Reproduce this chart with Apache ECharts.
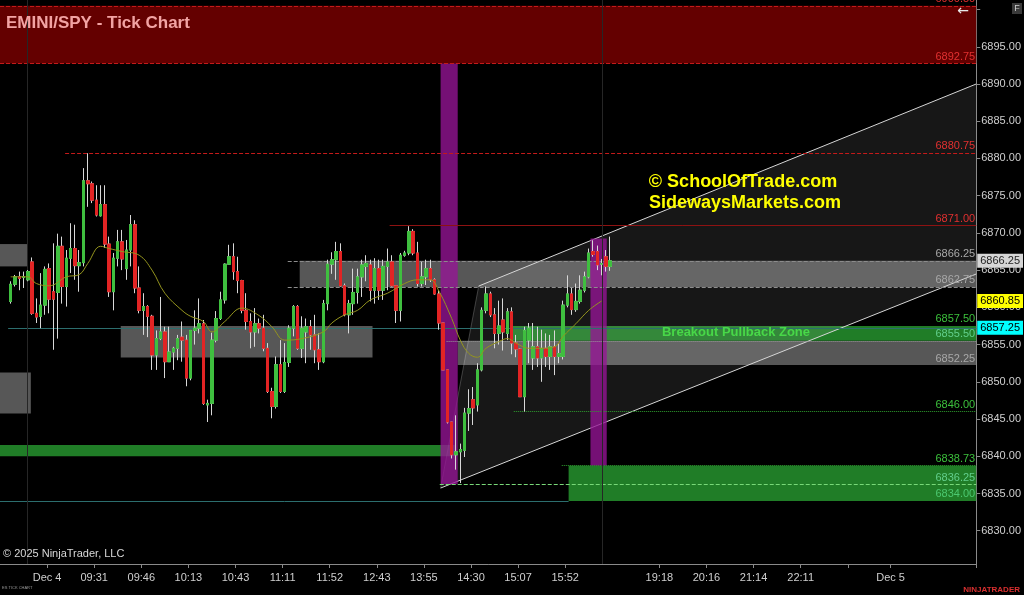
<!DOCTYPE html>
<html><head><meta charset="utf-8">
<script src="https://cdn.jsdelivr.net/npm/echarts@6/dist/echarts.min.js"></script>
<style>html,body{margin:0;padding:0;background:#000;}#c{width:1024px;height:595px;}</style>
</head><body><div id="c"></div>
<script>
// ---------- DATA ----------
const SLOTS = 228;              // bar slots on the time axis (incl. empty future area)
const Y_MIN = 6825.53, Y_MAX = 6901.28;
const xTickIdx = [11,22,33,44,55,66,77,88,99,110,121,132,154,165,176,187,198,208];
const xTickLabels = ['Dec 4','09:31','09:46','10:13','10:43','11:11','11:52','12:43','13:55','14:30','15:07','15:52','19:18','20:16','21:14','22:11','','Dec 5'];
const firstBar = 2;
// [open, close, low, high]
const ohlc = [
[6860.8,6863.1,6860.5,6863.5],[6863.1,6864.1,6862.8,6864.35],[6864.1,6863.9,6862.3,6864.8],[6864.0,6864.1,6862.6,6864.8],
[6863.7,6864.8,6863.5,6865.0],[6866.1,6859.2,6859.0,6866.7],[6859.2,6858.7,6857.9,6861.2],[6858.8,6860.3,6857.2,6864.6],
[6860.3,6865.1,6859.0,6865.5],[6865.2,6861.1,6859.2,6865.9],[6862.1,6861.1,6854.3,6868.6],[6862.0,6868.2,6855.8,6869.9],
[6868.2,6862.8,6860.5,6869.5],[6862.8,6866.6,6860.1,6867.7],[6866.6,6867.9,6864.6,6871.3],[6867.9,6865.6,6863.7,6871.1],
[6865.6,6866.0,6862.1,6867.7],[6866.0,6877.0,6865.5,6878.7],[6877.0,6876.6,6873.5,6880.7],[6876.6,6874.4,6874.0,6876.9],
[6874.4,6872.4,6872.2,6876.4],[6872.3,6873.8,6872.2,6876.4],[6873.8,6868.5,6868.0,6876.4],[6868.5,6862.1,6861.4,6869.5],
[6862.1,6866.6,6859.6,6867.3],[6866.6,6868.8,6865.5,6870.4],[6868.8,6866.5,6865.0,6870.4],[6865.2,6867.7,6863.7,6869.05],
[6867.7,6871.1,6865.5,6872.4],[6871.1,6862.6,6861.9,6871.7],[6862.6,6859.6,6859.2,6865.5],[6859.6,6860.1,6856.3,6861.9],
[6860.1,6858.8,6856.0,6860.3],[6858.8,6853.6,6851.6,6859.0],[6853.6,6855.8,6851.6,6856.9],[6855.8,6856.7,6855.6,6861.4],
[6856.7,6852.7,6850.5,6857.4],[6852.7,6854.0,6852.7,6857.4],[6854.0,6854.5,6851.6,6854.7],[6854.5,6855.8,6852.9,6856.3],
[6856.0,6855.6,6852.7,6858.1],[6855.6,6850.5,6849.4,6856.3],[6850.5,6856.9,6850.2,6856.9],[6856.9,6857.2,6855.0,6859.6],
[6857.2,6857.8,6856.5,6861.2],[6857.8,6847.1,6846.9,6858.3],[6846.9,6847.1,6844.6,6847.6],[6847.1,6855.6,6845.5,6856.6],
[6855.6,6858.5,6855.3,6859.5],[6858.5,6861.0,6858.3,6862.1],[6861.0,6865.8,6860.5,6865.9],[6865.8,6866.8,6865.8,6868.4],
[6866.8,6864.8,6863.7,6868.6],[6864.8,6863.6,6861.9,6866.8],[6863.6,6859.6,6859.2,6863.7],[6859.6,6858.1,6857.0,6861.9],
[6858.1,6856.7,6854.5,6859.2],[6856.7,6857.8,6854.7,6859.9],[6857.8,6857.2,6856.5,6858.5],[6857.2,6854.5,6854.1,6859.0],
[6854.5,6848.7,6848.5,6855.2],[6848.7,6846.7,6845.1,6849.2],[6846.7,6852.3,6846.4,6853.4],[6852.3,6848.7,6848.5,6855.6],
[6848.7,6852.6,6848.5,6855.2],[6852.6,6857.2,6852.0,6857.6],[6857.2,6860.1,6856.1,6860.3],[6860.1,6854.5,6854.3,6860.3],
[6854.5,6857.2,6853.2,6858.8],[6856.7,6857.4,6852.5,6858.5],[6857.4,6856.3,6854.3,6858.3],[6856.3,6854.3,6852.5,6859.0],
[6854.3,6852.7,6851.6,6856.5],[6852.7,6860.5,6852.5,6861.0],[6860.5,6865.8,6859.6,6866.4],[6865.8,6866.4,6864.5,6867.4],
[6866.4,6867.5,6863.7,6868.8],[6867.5,6862.9,6862.8,6868.6],[6862.9,6859.0,6858.8,6863.2],[6859.0,6860.5,6856.5,6861.0],
[6860.5,6862.0,6859.0,6865.2],[6862.0,6864.1,6860.5,6865.2],[6864.1,6865.7,6861.4,6866.4],[6865.5,6865.9,6863.5,6867.0],
[6865.7,6862.3,6860.8,6866.4],[6862.3,6865.2,6860.5,6866.6],[6865.2,6862.3,6861.0,6866.4],[6862.3,6865.5,6861.0,6866.4],
[6865.5,6866.1,6862.3,6867.9],[6866.1,6862.9,6862.8,6867.0],[6862.9,6859.6,6857.9,6863.0],[6859.6,6867.0,6858.1,6867.3],
[6867.0,6867.3,6866.8,6867.6],[6867.3,6870.2,6867.0,6870.9],[6870.2,6867.3,6867.0,6870.5],[6867.3,6863.2,6862.8,6868.8],
[6863.2,6864.1,6862.8,6866.1],[6864.1,6865.2,6863.0,6866.4],[6865.2,6863.7,6863.4,6866.4],[6863.7,6861.8,6861.7,6863.9],
[6861.8,6857.9,6857.0,6862.3],[6857.9,6851.6,6851.6,6857.9],[6851.6,6844.6,6844.4,6851.6],[6844.6,6840.2,6839.7,6844.6],
[6840.2,6840.6,6838.2,6845.5],[6840.6,6840.9,6836.4,6841.7],[6840.8,6845.8,6839.9,6846.5],[6845.8,6846.4,6843.4,6849.0],
[6847.6,6846.5,6844.2,6849.3],[6846.9,6851.6,6846.0,6852.5],[6851.6,6859.6,6851.4,6860.0],[6859.6,6861.8,6859.2,6862.8],
[6861.8,6859.0,6858.7,6862.1],[6859.0,6856.5,6854.5,6859.9],[6856.5,6857.5,6855.0,6860.9],[6858.3,6856.7,6854.2,6861.2],
[6856.5,6859.4,6855.6,6859.9],[6859.4,6855.2,6853.7,6860.0],[6855.2,6854.4,6853.3,6856.3],[6854.4,6848.0,6848.0,6854.5],
[6848.0,6856.9,6846.0,6857.4],[6855.6,6857.2,6852.5,6857.9],[6853.2,6854.7,6851.6,6857.9],[6854.7,6853.2,6852.0,6857.4],
[6853.2,6854.5,6850.0,6857.0],[6854.5,6853.4,6852.0,6856.5],[6853.4,6854.7,6851.6,6856.3],[6854.7,6853.4,6850.9,6856.9],
[6853.4,6853.8,6852.5,6855.2],[6853.4,6860.3,6853.0,6860.9],[6860.3,6861.8,6860.0,6864.3],[6861.8,6859.7,6859.0,6862.6],
[6859.7,6860.8,6859.4,6863.2],[6860.8,6862.3,6860.5,6864.3],[6862.3,6864.1,6862.0,6864.8],[6864.1,6867.3,6863.9,6867.9],
[6867.5,6867.1,6866.8,6869.0],[6867.5,6865.7,6865.0,6868.3],[6865.8,6865.9,6864.3,6866.5],[6866.8,6865.5,6864.8,6867.7],
[6865.5,6866.25,6864.9,6869.5]
];
// moving average read at selected bars [slot, value]
const maPoints = [[2,6864.1],[6,6864.1],[8,6863.2],[11,6862.9],[15,6864.1],[18,6864.4],[20,6865.9],[23,6868.2],[25,6867.9],
[28,6867.5],[32,6867.0],[35,6865.0],[38,6861.9],[42,6859.6],[44,6858.8],[47,6858.1],[49,6856.7],[52,6858.1],[56,6859.9],
[60,6858.9],[63,6857.4],[66,6855.6],[70,6855.8],[75,6856.7],[77,6857.9],[80,6859.0],[83,6859.6],[86,6861.0],[90,6861.9],
[94,6863.2],[97,6863.7],[100,6863.7],[102,6862.2],[105,6858.5],[107,6855.6],[109,6853.8],[111,6853.3],[113,6854.5],
[116,6855.4],[118,6855.8],[120,6855.2],[123,6854.5],[126,6854.5],[129,6854.7],[131,6856.1],[134,6857.8],[137,6859.6],[140,6860.85]];
// zones [fromSlot, toSlot, top, bottom]
const titleZone = [0, SLOTS, 6900.50, 6892.75];
const grayZones = [[0,6.3,6868.5,6865.5],[0,7.2,6851.25,6845.75],[28.2,87,6857.5,6853.25],[70,SLOTS,6866.25,6862.75],[106.9,SLOTS,6855.50,6852.25]];
const greenZones = [[0,106.2,6841.5,6840.0],[119.7,SLOTS,6857.50,6855.50],[132.8,SLOTS,6838.73,6834.00]];
const purpleBands = [[102.9,106.9,6892.75,6836.25],[137.9,141.7,6869.25,6838.73]];
// horizontal levels [value, fromSlot]
const levels = [[6900.50,0],[6892.75,0],[6880.75,15.2],[6871.00,91],[6866.25,67.2],[6862.75,67.2],[6857.50,119.7],
[6855.50,104.3],[6852.25,106.9],[6846.00,120],[6838.73,131.2],[6836.25,102.7],[6834.00,132.8]];
const tealLines = [[6857.25,1.9,SLOTS],[6834.00,0,132.8]];
const vLines = [6.3, 140.7];
// price markers on the axis [value]
const markers = [6866.25, 6860.85, 6857.25];
// channel [slot, price]
const channelUpper = [[111.8,6862.86],[SLOTS,6890.0]];
const channelLower = [[102.9,6835.73],[SLOTS,6864.48]];

// ---------- STYLES (by order of the arrays above) ----------
const levelStyle = [
 {lc:'#c41a1a',lt:'dashed',tc:'#e23030'},{lc:'#c41a1a',lt:'dashed',tc:'#e23030'},{lc:'#c41a1a',lt:'dashed',tc:'#e23030'},
 {lc:'#8e1212',lt:'solid',tc:'#e23030'},{lc:'#8c8c8c',lt:'dashed',tc:'#a8a8a8'},{lc:'#8c8c8c',lt:'dashed',tc:'#a8a8a8'},
 {lc:null,tc:'#3cc03c'},{lc:'#9a9a9a',lt:'dotted',tc:'#62cf8c'},{lc:null,tc:'#a8a8a8'},
 {lc:'#2e9e2e',lt:'dotted',tc:'#3cc03c'},{lc:'#2e9e2e',lt:'dotted',tc:'#3cc03c'},{lc:'#78d878',lt:'dashed',tc:'#62cf8c'},
 {lc:null,tc:'#4cc870'}];
const markerStyle = [{bg:'#d6d6d6',c:'#222'},{bg:'#ffff00',c:'#000'},{bg:'#00ffff',c:'#000'}];

const cats = Array.from({length:SLOTS},(_,i)=>{const k=xTickIdx.indexOf(i);return k>=0?xTickLabels[k]:'';});
const wickData = ohlc.map((b,j)=>[firstBar+j,b[0],b[1],b[2],b[3]]);
const bodyData = ohlc.map((b,j)=>[firstBar+j,b[0],b[1],Math.min(b[0],b[1]),Math.max(b[0],b[1])]);
const maData = Array(SLOTS).fill(null); maPoints.forEach(([i,v])=>{maData[i]=v;});

const area = (z, color) => [{coord:[z[0],z[2]], itemStyle:{color}}, {coord:[z[1],z[3]]}];
const font = '"Liberation Sans", Arial, sans-serif';

const levelLines = levels.map((l,k)=>{
  const s = levelStyle[k];
  return [{coord:[l[1],l[0]], lineStyle: s.lc ? {color:s.lc,type:s.lt,width:1} : {color:'rgba(0,0,0,0)',width:0},
           label:{show:true,position:'insideEndTop',distance:1,formatter:l[0].toFixed(2),color:s.tc,fontSize:11,fontFamily:font}},
          {coord:[SLOTS,l[0]]}];
});
const tealData = tealLines.map(t=>[{coord:[t[1],t[0]],lineStyle:{color:'#2c6e6e',width:1,type:'solid'},label:{show:false}},{coord:[t[2],t[0]]}]);
const vData = vLines.map(x=>[{coord:[x,Y_MIN],lineStyle:{color:'#262626',width:1,type:'solid'},label:{show:false}},{coord:[x,Y_MAX]}]);
const markerData = markers.map((v,k)=>[{coord:[0,v],lineStyle:{color:'rgba(0,0,0,0)',width:0},
   label:{show:true,position:'end',distance:1,formatter:v.toFixed(2),backgroundColor:markerStyle[k].bg,color:markerStyle[k].c,
          padding:[2,3,1,3],fontSize:11,fontFamily:font}},{coord:[SLOTS,v]}]);

const chart = echarts.init(document.getElementById('c'));
chart.setOption({
  backgroundColor:'#000',
  animation:false,
  grid:{left:0,right:47,top:0,bottom:31},
  xAxis:[{
    type:'category',data:cats,boundaryGap:true,
    axisLine:{onZero:false,lineStyle:{color:'#8a8a8a'}},
    axisTick:{show:true,length:4,alignWithLabel:false,lineStyle:{color:'#8a8a8a'},interval:(i)=>xTickIdx.includes(i)},
    axisLabel:{interval:(i)=>xTickIdx.includes(i)&&cats[i]!=='',color:'#cfcfcf',fontSize:11,margin:8,padding:[0,4.3,0,0],fontFamily:font},
    splitLine:{show:false}
  },{type:'value',min:0,max:SLOTS,show:false}],
  yAxis:{
    type:'value',position:'right',min:Y_MIN,max:Y_MAX,splitNumber:15,minInterval:5,maxInterval:5,scale:true,
    axisLine:{show:true,onZero:false,lineStyle:{color:'#8a8a8a'}},
    axisTick:{show:true,length:4,lineStyle:{color:'#8a8a8a'}},
    axisLabel:{color:'#cfcfcf',fontSize:11,margin:5,fontFamily:font,showMinLabel:false,showMaxLabel:false,
      formatter:(v)=> (v>6897||v<6826)?'':v.toFixed(2)},
    splitLine:{show:false}
  },
  series:[
    {type:'line',xAxisIndex:1,data:[],silent:true,
     markArea:{silent:true,z:1,label:{show:false},data:[area(titleZone,'#640000')]
       .concat(grayZones.map(z=>area(z,'rgba(150,150,150,0.58)')))
       .concat(greenZones.map(z=>area(z,'#207d27')))}},
    {type:'custom',xAxisIndex:1,yAxisIndex:0,z:2,silent:true,data:[[0,6860]],
     renderItem:(p,api)=>{
       const u0=api.coord(channelUpper[0]),u1=api.coord(channelUpper[1]),l0=api.coord(channelLower[0]),l1=api.coord(channelLower[1]);
       return {type:'group',children:[
         {type:'polygon',shape:{points:[u0,u1,l1,l0]},style:{fill:'rgba(255,255,255,0.09)'}},
         {type:'line',shape:{x1:l0[0],y1:l0[1],x2:u0[0],y2:u0[1]},style:{stroke:'rgba(255,255,255,0.22)',lineWidth:1}},
         {type:'line',shape:{x1:u0[0],y1:u0[1],x2:u1[0],y2:u1[1]},style:{stroke:'#d6d6d6',lineWidth:1}},
         {type:'line',shape:{x1:l0[0],y1:l0[1],x2:l1[0],y2:l1[1]},style:{stroke:'#d6d6d6',lineWidth:1}}
       ]};
     }},
    {type:'line',xAxisIndex:1,data:[],silent:true,
     markArea:{silent:true,z:3,label:{show:false},data:purpleBands.map(z=>area(z,'rgba(150,20,150,0.78)'))}},
    {type:'line',xAxisIndex:1,data:[],silent:true,
     markLine:{silent:true,z:4,symbol:['none','none'],data:levelLines.concat(tealData).concat(vData).concat(markerData)}},
    {type:'candlestick',xAxisIndex:0,z:5,silent:true,barWidth:3,encode:{x:0,y:[1,2,3,4]},data:wickData,
     itemStyle:{color:'#d8d8d8',color0:'#d8d8d8',borderColor:'#d8d8d8',borderColor0:'#d8d8d8',borderWidth:1}},
    {type:'candlestick',xAxisIndex:0,z:6,silent:true,barWidth:3,encode:{x:0,y:[1,2,3,4]},data:bodyData,
     itemStyle:{color:'#3fbf3f',color0:'#e22424',borderColor:'#3fbf3f',borderColor0:'#e22424',borderWidth:1}},
    {type:'line',xAxisIndex:0,z:7,silent:true,data:maData,connectNulls:true,smooth:0.4,symbol:'none',
     lineStyle:{color:'#94941e',width:1}}
  ],
  graphic:[
    {type:'text',left:6,top:15,z:20,style:{text:'EMINI/SPY - Tick Chart',fill:'#f2a3a3',font:'bold 17px '+font}},
    {type:'text',x:743,y:182,z:20,style:{text:'© SchoolOfTrade.com',fill:'#ffff00',textAlign:'center',textVerticalAlign:'middle',font:'bold 18px '+font}},
    {type:'text',x:745,y:203,z:20,style:{text:'SidewaysMarkets.com',fill:'#ffff00',textAlign:'center',textVerticalAlign:'middle',font:'bold 18px '+font}},
    {type:'text',x:736,y:332,z:20,style:{text:'Breakout Pullback Zone',fill:'#48d848',textAlign:'center',textVerticalAlign:'middle',font:'bold 13px '+font}},
    {type:'text',x:3,y:554,z:20,style:{text:'© 2025 NinjaTrader, LLC',fill:'#d8d8d8',textVerticalAlign:'middle',font:'11px '+font}},
    {type:'text',x:1020,y:590,z:20,style:{text:'NINJATRADER',fill:'#d93030',textAlign:'right',textVerticalAlign:'middle',font:'bold 8px '+font}},
    {type:'text',x:2,y:588,z:20,style:{text:'ES TICK CHART',fill:'#9a9a9a',textVerticalAlign:'middle',font:'4px '+font}},
    {type:'text',x:963,y:11,z:20,style:{text:'←',fill:'#e8e8e8',textAlign:'center',textVerticalAlign:'middle',font:'14px "DejaVu Sans"'}},
    {type:'rect',shape:{x:1012,y:3,width:10,height:11},z:20,style:{fill:'#3a3a3a'}},
    {type:'text',x:1017,y:9,z:21,style:{text:'F',fill:'#cfcfcf',textAlign:'center',textVerticalAlign:'middle',font:'9px '+font}}
  ]
});
</script></body></html>
